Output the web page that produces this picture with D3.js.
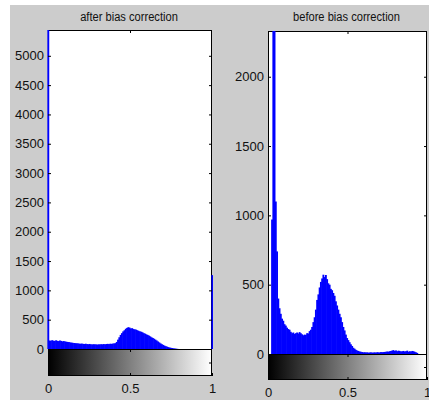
<!DOCTYPE html>
<html>
<head>
<meta charset="utf-8">
<script src="https://cdn.jsdelivr.net/npm/d3@7"></script>
<style>
  body { margin: 0; background: #fff; }
  svg text { font-family: Arial, "Liberation Sans", sans-serif; fill: #111; }
</style>
</head>
<body>
<svg id="chart" width="429" height="401"></svg>
<script>
// panel titles
var titles = ["after bias correction", "before bias correction"];

// intensity ticks under the gray bar
var xTicks = [0, 0.5, 1];
var xTickLabels = ["0", "0.5", "1"];

// count ticks for each panel
var afterTicks = [0, 500, 1000, 1500, 2000, 2500, 3000, 3500, 4000, 4500, 5000];
var beforeTicks = [0, 500, 1000, 1500, 2000];

// histogram counts, 128 bins spread evenly over 0..1
var afterCounts = [
  5440, 145, 140, 150, 142, 138, 148, 140,
  135, 145, 138, 130, 135, 128, 125, 120,
  118, 112, 110, 105, 102, 100, 98, 95,
  92, 90, 92, 88, 85, 90, 84, 82,
  86, 80, 78, 82, 80, 78, 76, 80,
  78, 82, 80, 84, 80, 85, 88, 84,
  90, 88, 92, 95, 100, 120, 160, 200,
  240, 270, 300, 320, 345, 360, 372, 365,
  350, 355, 340, 335, 330, 320, 310, 300,
  295, 285, 270, 262, 250, 240, 228, 215,
  200, 188, 175, 160, 145, 128, 112, 96,
  82, 70, 58, 48, 40, 32, 25, 20,
  16, 12, 8, 5, 3, 0, 0, 0,
  0, 0, 0, 0, 0, 0, 0, 0,
  0, 0, 0, 0, 0, 0, 0, 0,
  0, 0, 0, 0, 0, 0, 0, 1260
];

var beforeCounts = [
  0, 0, 0, 970, 2400, 2400, 1100, 740,
  400, 330, 290, 255, 240, 215, 205, 190,
  180, 175, 160, 150, 155, 145, 150, 155,
  148, 158, 150, 142, 135, 140, 138, 150,
  148, 165, 175, 195, 230, 265, 320, 390,
  430, 480, 520, 545, 572, 555, 570, 540,
  510, 500, 470, 460, 440, 420, 380, 350,
  320, 290, 265, 230, 195, 170, 140, 115,
  100, 85, 70, 58, 45, 38, 30, 25,
  22, 18, 16, 14, 12, 13, 11, 12,
  10, 11, 12, 10, 11, 12, 10, 13,
  12, 11, 14, 13, 14, 15, 16, 18,
  17, 20, 22, 25, 28, 22, 26, 20,
  24, 22, 18, 20, 22, 18, 20, 24,
  16, 20, 18, 22, 20, 16, 12, 8,
  0, 0, 0, 0, 0, 0, 0, 0
];

var svg = d3.select("#chart");

// figure background
svg.append("rect")
  .attr("x", 10).attr("y", 5)
  .attr("width", 419).attr("height", 395)
  .attr("fill", "#cccccc");

// gray ramp used by both colorbars
var grad = svg.append("defs").append("linearGradient")
  .attr("id", "ramp")
  .attr("x1", "0%").attr("x2", "100%").attr("y1", "0%").attr("y2", "0%");
grad.append("stop").attr("offset", "0%").attr("stop-color", "#000");
grad.append("stop").attr("offset", "100%").attr("stop-color", "#fff");

var panels = [
  {id: "a", x0: 48, x1: 212, top: 30, base: 349, barBottom: 376, ymax: 5440,
   ticks: afterTicks, counts: afterCounts, title: titles[0]},
  {id: "b", x0: 268, x1: 427, top: 31, base: 354, barBottom: 380, ymax: 2330,
   ticks: beforeTicks, counts: beforeCounts, title: titles[1]}
];

panels.forEach(drawPanel);

function styleAxis(g) {
  g.select(".domain").remove();
  g.attr("color", "#000");
  g.selectAll("text")
    .attr("font-size", 13)
    .attr("font-family", "Arial, 'Liberation Sans', sans-serif")
    .attr("fill", "#111");
}

function drawPanel(p) {
  var x = d3.scaleLinear().domain([0, 1]).range([p.x0, p.x1]);
  var y = d3.scaleLinear().domain([0, p.ymax]).range([p.base, p.top]);
  var n = p.counts.length;
  var bw = (p.x1 - p.x0) / (n - 1);

  // plot area
  svg.append("rect")
    .attr("x", p.x0).attr("y", p.top)
    .attr("width", p.x1 - p.x0).attr("height", p.base - p.top)
    .attr("fill", "#fff");

  // frame
  svg.append("rect")
    .attr("x", p.x0 + 0.5).attr("y", p.top + 0.5)
    .attr("width", p.x1 - p.x0 - 1).attr("height", p.base - p.top)
    .attr("fill", "none").attr("stroke", "#000");

  // clip so tall bins stop at the top
  svg.select("defs").append("clipPath").attr("id", "clip-" + p.id)
    .append("rect")
    .attr("x", p.x0 - 1).attr("y", p.top)
    .attr("width", p.x1 - p.x0 + 2).attr("height", p.base - p.top);

  // bins drawn slightly wider so no seams show between them
  svg.append("g")
    .attr("clip-path", "url(#clip-" + p.id + ")")
    .selectAll("rect")
    .data(p.counts)
    .enter()
    .append("rect")
    .attr("x", function(d, i) { return x(i / (n - 1)) - bw / 2; })
    .attr("width", bw + 0.6)
    .attr("y", function(d) { return y(d); })
    .attr("height", function(d) { return p.base - y(d); })
    .attr("fill", "#0000ff");

  // count axis, ticks pointing inward
  svg.append("g")
    .attr("transform", "translate(" + p.x0 + ",0)")
    .call(d3.axisLeft(y).tickValues(p.ticks).tickSize(-3).tickPadding(4).tickFormat(d3.format("d")))
    .call(styleAxis);

  svg.append("g")
    .attr("transform", "translate(" + p.x1 + ",0)")
    .call(d3.axisRight(y).tickValues(p.ticks.slice(1)).tickSize(-3).tickFormat(""))
    .call(styleAxis);

  svg.append("g")
    .attr("transform", "translate(0," + p.top + ")")
    .call(d3.axisTop(x).tickValues([0.5]).tickSize(-3).tickFormat(""))
    .call(styleAxis);

  // gray colorbar
  svg.append("rect")
    .attr("x", p.x0 + 0.5).attr("y", p.base + 0.5)
    .attr("width", p.x1 - p.x0 - 1).attr("height", p.barBottom - p.base - 1)
    .attr("fill", "url(#ramp)")
    .attr("stroke", "#000");

  var cy = d3.scaleLinear().domain([0, 1]).range([p.barBottom, p.base]);

  svg.append("g")
    .attr("transform", "translate(0," + p.base + ")")
    .call(d3.axisTop(x).tickValues([0.5]).tickSize(-3).tickFormat(""))
    .call(styleAxis);

  svg.append("g")
    .attr("transform", "translate(" + p.x1 + ",0)")
    .call(d3.axisRight(cy).tickValues([0.5]).tickSize(-3).tickFormat(""))
    .call(styleAxis);

  svg.append("g")
    .attr("transform", "translate(0," + p.barBottom + ")")
    .call(d3.axisBottom(x).tickValues(xTicks).tickSize(-3).tickPadding(7.5)
      .tickFormat(function(d, i) { return xTickLabels[i]; }))
    .call(styleAxis);

  // title
  svg.append("text")
    .attr("transform", "translate(" + ((p.x0 + p.x1) / 2 - 1) + ",20.5) scale(0.89,1)")
    .attr("text-anchor", "middle")
    .attr("font-size", 12.5)
    .text(p.title);
}
</script>
</body>
</html>
